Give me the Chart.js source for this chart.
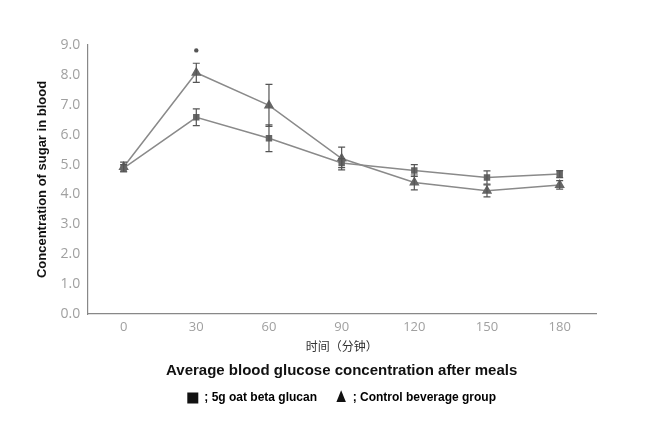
<!DOCTYPE html>
<html>
<head>
<meta charset="utf-8">
<script src="https://cdn.jsdelivr.net/npm/chart.js@4.4.0/dist/chart.umd.min.js"></script>
<style>
  html, body { margin: 0; padding: 0; background: #fff; }
  #wrap { width: 651px; height: 442px; }
</style>
</head>
<body>
<div id="wrap"><canvas id="sugarChart"></canvas></div>
<script>
// minutes after meal
const minutes = ['0', '30', '60', '90', '120', '150', '180'];

// 5g oat beta glucan (squares)
const oatMean = [4.88, 6.58, 5.88, 5.05, 4.80, 4.57, 4.68];
const oatErr  = [0.12, 0.28, 0.45, 0.15, 0.20, 0.22, 0.12];

// control beverage group (triangles)
const ctrlMean = [4.92, 8.07, 6.98, 5.20, 4.40, 4.12, 4.32];
const ctrlErr  = [0.16, 0.32, 0.70, 0.38, 0.25, 0.20, 0.14];

// significance mark above the 30 min point
const starValue = [null, 8.82, null, null, null, null, null];

const yTicks = [0, 1, 2, 3, 4, 5, 6, 7, 8, 9];

const greyText = '#a0a0a0';

// draws the error bars and the * mark with the chart scales
const errorBars = {
    id: 'errorBars',
    afterDatasetsDraw(chart) {
        const ctx = chart.ctx;
        const x = chart.scales.x, y = chart.scales.y;
        const sets = [[oatMean, oatErr], [ctrlMean, ctrlErr]];
        ctx.save();
        ctx.strokeStyle = '#555';
        ctx.lineWidth = 1.2;
        sets.forEach(([mean, err]) => {
            mean.forEach((m, i) => {
                const px = x.getPixelForValue(i);
                const top = y.getPixelForValue(m + err[i]);
                const bot = y.getPixelForValue(m - err[i]);
                ctx.beginPath();
                ctx.moveTo(px, top); ctx.lineTo(px, bot);
                ctx.moveTo(px - 3.5, top); ctx.lineTo(px + 3.5, top);
                ctx.moveTo(px - 3.5, bot); ctx.lineTo(px + 3.5, bot);
                ctx.stroke();
            });
        });
        ctx.fillStyle = '#555';
        starValue.forEach((v, i) => {
            if (v == null) return;
            ctx.beginPath();
            ctx.arc(x.getPixelForValue(i), y.getPixelForValue(v), 2.2, 0, Math.PI * 2);
            ctx.fill();
        });
        ctx.restore();
    }
};

const data = {
    labels: minutes,
    datasets: [{
        label: '; 5g oat beta glucan  ',
        data: oatMean,
        borderColor: '#8a8a8a',
        pointBackgroundColor: '#666',
        pointBorderColor: '#666',
        pointStyle: 'rect',
        pointRadius: 3.5,
        borderWidth: 1.5
    }, {
        label: '; Control beverage group',
        data: ctrlMean,
        borderColor: '#8a8a8a',
        pointBackgroundColor: '#666',
        pointBorderColor: '#666',
        pointStyle: 'triangle',
        pointRadius: 4.5,
        borderWidth: 1.5
    }]
};

const options = {
    responsive: true,
    maintainAspectRatio: false,
    animation: false,
    layout: { padding: { left: 35, right: 55, top: 45, bottom: 28 } },
    plugins: {
        tooltip: { enabled: false },
        title: {
            display: true,
            position: 'bottom',
            fullSize: false,
            weight: 500,
            text: 'Average blood glucose concentration after meals',
            color: '#111',
            font: { family: 'Liberation Sans', size: 15, weight: 'bold' },
            padding: { top: 8, bottom: 0 }
        },
        legend: {
            position: 'bottom',
            fullSize: false,
            labels: {
                color: '#111',
                font: { family: 'Liberation Sans', size: 12, weight: 'bold' },
                usePointStyle: true,
                pointStyleWidth: 11,
                boxHeight: 11,
                padding: 12,
                generateLabels(chart) {
                    return chart.data.datasets.map((ds, i) => ({
                        text: ds.label,
                        fillStyle: '#111',
                        strokeStyle: '#111',
                        lineWidth: 0,
                        pointStyle: ds.pointStyle,
                        datasetIndex: i
                    }));
                }
            }
        }
    },
    scales: {
        x: {
            offset: true,
            grid: { display: false, drawTicks: true, offset: true, color: '#888', tickLength: 5 },
            border: { color: '#888', width: 1.2 },
            ticks: { color: greyText, font: { family: 'Open Sans', size: 13 }, padding: 0 },
            title: {
                display: true,
                text: '时间（分钟）',
                color: '#333',
                font: { family: 'Noto Sans CJK SC', size: 12 },
                padding: { top: 5, bottom: 0 }
            }
        },
        y: {
            min: 0,
            max: 9,
            afterBuildTicks(axis) { axis.ticks = yTicks.map(v => ({ value: v })); },
            grid: { display: false, drawTicks: true, color: '#888', tickLength: 5 },
            border: { color: '#888', width: 1.2 },
            ticks: {
                color: greyText,
                font: { family: 'Open Sans', size: 14 },
                padding: 2,
                callback: v => v.toFixed(1)
            },
            title: {
                display: true,
                text: 'Concentration of sugar in blood',
                color: '#111',
                font: { family: 'Liberation Sans', size: 13, weight: 'bold' },
                padding: { top: 0, bottom: 8 }
            }
        }
    }
};

new Chart('sugarChart', { type: 'line', data, options, plugins: [errorBars] });
</script>
</body>
</html>
